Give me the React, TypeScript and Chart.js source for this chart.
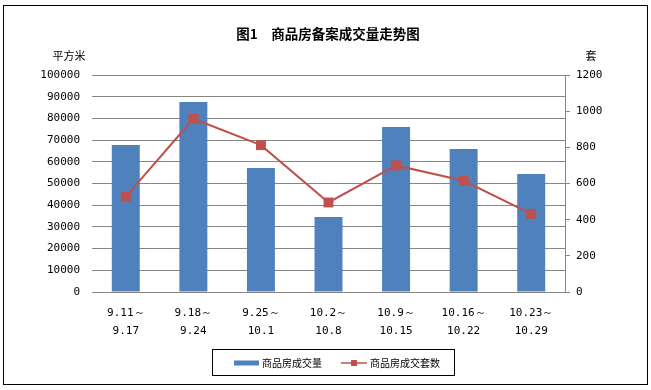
import { useEffect, useRef } from 'react';
import { Chart, registerables } from 'chart.js';

Chart.register(...registerables);

const categories: string[][] = [
  ['9.11～', '9.17'],
  ['9.18～', '9.24'],
  ['9.25～', '10.1'],
  ['10.2～', '10.8'],
  ['10.9～', '10.15'],
  ['10.16～', '10.22'],
  ['10.23～', '10.29'],
];
const areaValues = [67700, 87600, 57100, 34600, 76000, 65900, 54400];
const unitValues = [527, 958, 812, 495, 700, 615, 432];
const areaLabel = '商品房成交量';
const unitLabel = '商品房成交套数';
const titleText = '图1　商品房备案成交量走势图';
const leftAxisTitle = '平方米';
const rightAxisTitle = '套';

const BLUE = '#4F81BD';
const RED = '#C0504D';
const GRID = '#868686';
const MONO = '"DejaVu Sans Mono", monospace';
const CJK = '"Noto Sans CJK SC", sans-serif';

const decorPlugin = {
  id: 'decor',
  beforeDraw(chart: any) {
    const ctx = chart.ctx;
    ctx.save();
    ctx.fillStyle = '#ffffff';
    ctx.fillRect(0, 0, chart.width, chart.height);
    ctx.strokeStyle = '#000000';
    ctx.lineWidth = 1;
    ctx.strokeRect(3.5, 5.5, 644, 379);
    ctx.restore();
  },
  afterDraw(chart: any) {
    const ctx = chart.ctx;
    ctx.save();
    ctx.fillStyle = '#000000';
    ctx.textBaseline = 'middle';
    ctx.textAlign = 'center';
    ctx.font = `bold 13.5px ${CJK}`;
    ctx.fillText(titleText, 328, 34);
    ctx.font = `11px ${CJK}`;
    ctx.fillText(leftAxisTitle, 69, 56);
    ctx.fillText(rightAxisTitle, 591, 56);

    // legend
    const bx = 212.5, by = 349.5, bw = 242, bh = 26;
    ctx.strokeStyle = '#000000';
    ctx.lineWidth = 1;
    ctx.strokeRect(bx, by, bw, bh);
    const cy = 363;
    const ds = chart.data.datasets;
    ctx.fillStyle = ds[0].backgroundColor;
    ctx.fillRect(234, cy - 2.5, 25, 5);
    ctx.fillStyle = '#000000';
    ctx.textAlign = 'left';
    ctx.font = `10px ${CJK}`;
    ctx.fillText(ds[0].label, 262, cy);
    ctx.strokeStyle = ds[1].borderColor;
    ctx.lineWidth = 1.5;
    ctx.beginPath();
    ctx.moveTo(341, cy);
    ctx.lineTo(367, cy);
    ctx.stroke();
    ctx.fillStyle = ds[1].pointBackgroundColor;
    ctx.fillRect(351, cy - 3, 6, 6);
    ctx.fillStyle = '#000000';
    ctx.fillText(ds[1].label, 370, cy);
    ctx.restore();
  },
};

export default function App() {
  const ref = useRef<HTMLCanvasElement | null>(null);

  useEffect(() => {
    if (!ref.current) return;
    const chart = new Chart(ref.current, {
      type: 'bar',
      data: {
        labels: categories,
        datasets: [
          {
            type: 'bar',
            label: areaLabel,
            data: areaValues,
            backgroundColor: BLUE,
            borderWidth: 0,
            yAxisID: 'y',
            barPercentage: 0.414,
            categoryPercentage: 1,
            order: 2,
          },
          {
            type: 'line',
            label: unitLabel,
            data: unitValues,
            borderColor: RED,
            backgroundColor: RED,
            pointBackgroundColor: RED,
            pointBorderColor: RED,
            borderWidth: 2,
            pointStyle: 'rect',
            pointRadius: 7,
            pointBorderWidth: 0,
            yAxisID: 'y1',
            order: 1,
          } as any,
        ],
      },
      options: {
        responsive: false,
        animation: false,
        devicePixelRatio: 1,
        layout: { padding: { left: 0, right: 0, top: 75, bottom: 0 } },
        plugins: {
          legend: { display: false },
          title: { display: false },
          tooltip: { enabled: false },
        },
        scales: {
          x: {
            offset: true,
            grid: { display: false, drawTicks: false },
            border: { display: true, color: GRID, width: 1 },
            ticks: {
              color: '#000000',
              padding: 12,
              maxRotation: 0,
              autoSkip: false,
              font: { family: MONO, size: 11, lineHeight: '18px' } as any,
            },
            afterFit: (s: any) => { s.height = 98; },
          },
          y: {
            position: 'left',
            min: 0,
            max: 100000,
            grid: { color: GRID, lineWidth: 1, drawTicks: false },
            border: { display: false },
            ticks: {
              stepSize: 10000,
              color: '#000000',
              padding: 12,
              font: { family: MONO, size: 11 },
              callback: (v: any) => String(v),
            },
            afterFit: (s: any) => { s.width = 92; },
          },
          y1: {
            position: 'right',
            min: 0,
            max: 1200,
            grid: { drawOnChartArea: false, drawTicks: true, tickLength: 5, color: GRID },
            border: { display: true, color: GRID, width: 1 },
            ticks: {
              stepSize: 200,
              color: '#000000',
              padding: 6,
              font: { family: MONO, size: 11 },
              callback: (v: any) => String(v),
            },
            afterFit: (s: any) => { s.width = 86; },
          },
        },
      },
      plugins: [decorPlugin],
    });
    return () => chart.destroy();
  }, []);

  return (
    <div style={{ position: 'fixed', left: 0, top: 0, width: 651, height: 390 }}>
      <canvas ref={ref} width={651} height={390} />
    </div>
  );
}
